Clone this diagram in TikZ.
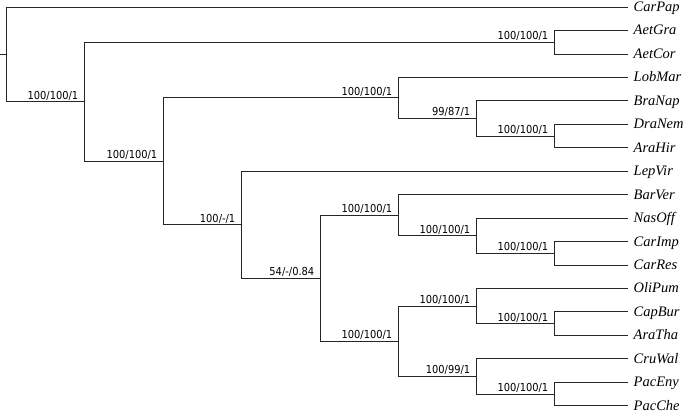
\documentclass[tikz,border=0pt]{standalone}
\usepackage{fontspec}
\setmainfont{Liberation Serif}
\newfontfamily\supfont{DejaVu Sans Condensed}
\begin{document}
\begin{tikzpicture}[x=1pt,y=-1pt,
  branch/.style={draw=black!85,line width=0.8pt},
  taxon/.style={anchor=base west,inner sep=0pt,xshift=5.5pt,yshift=-4.5pt,font=\fontsize{14.5}{16}\selectfont\itshape},
  supp/.style={anchor=base east,inner sep=0pt,xshift=-5.5pt,yshift=2.5pt,font=\supfont\fontsize{11}{12}\selectfont}]
\useasboundingbox (0,0) rectangle (685,413);
% leaf ends
\foreach \n [count=\i from 0] in {CarPap,AetGra,AetCor,LobMar,BraNap,DraNem,AraHir,LepVir,BarVer,NasOff,CarImp,CarRes,OliPum,CapBur,AraTha,CruWal,PacEny,PacChe}{
  \coordinate (t\n) at (628,{7+23.45*\i});
  \node[taxon] (\n) at (t\n) {\n};
}
% internal nodes
\coordinate (stub) at (0,54.36);
\coordinate (A) at (6,54.36);
\coordinate (B) at (84,101.72);
\coordinate (Aet) at (554,42.18);
\coordinate (C) at (163,161.26);
\coordinate (D) at (398,97.87);
\coordinate (E) at (476,118.39);
\coordinate (F) at (554,135.98);
\coordinate (G) at (241,224.65);
\coordinate (H) at (320,278.15);
\coordinate (I) at (398,215.12);
\coordinate (K) at (476,235.64);
\coordinate (L) at (554,253.23);
\coordinate (J) at (398,341.17);
\coordinate (M) at (476,305.99);
\coordinate (N) at (554,323.58);
\coordinate (O) at (476,376.34);
\coordinate (P) at (554,393.93);
% branches
\draw[branch] (stub) -- (A);
\draw[branch] (A) |- (tCarPap);
\draw[branch] (A) |- (B);
\draw[branch] (B) |- (Aet);
\draw[branch] (Aet) |- (tAetGra);
\draw[branch] (Aet) |- (tAetCor);
\draw[branch] (B) |- (C);
\draw[branch] (C) |- (D);
\draw[branch] (D) |- (tLobMar);
\draw[branch] (D) |- (E);
\draw[branch] (E) |- (tBraNap);
\draw[branch] (E) |- (F);
\draw[branch] (F) |- (tDraNem);
\draw[branch] (F) |- (tAraHir);
\draw[branch] (C) |- (G);
\draw[branch] (G) |- (tLepVir);
\draw[branch] (G) |- (H);
\draw[branch] (H) |- (I);
\draw[branch] (I) |- (tBarVer);
\draw[branch] (I) |- (K);
\draw[branch] (K) |- (tNasOff);
\draw[branch] (K) |- (L);
\draw[branch] (L) |- (tCarImp);
\draw[branch] (L) |- (tCarRes);
\draw[branch] (H) |- (J);
\draw[branch] (J) |- (M);
\draw[branch] (M) |- (tOliPum);
\draw[branch] (M) |- (N);
\draw[branch] (N) |- (tCapBur);
\draw[branch] (N) |- (tAraTha);
\draw[branch] (J) |- (O);
\draw[branch] (O) |- (tCruWal);
\draw[branch] (O) |- (P);
\draw[branch] (P) |- (tPacEny);
\draw[branch] (P) |- (tPacChe);
% support values
\node[supp] (sB) at (B) {100/100/1};
\node[supp] (sAet) at (Aet) {100/100/1};
\node[supp] (sC) at (C) {100/100/1};
\node[supp] (sD) at (D) {100/100/1};
\node[supp] (sE) at (E) {99/87/1};
\node[supp] (sF) at (F) {100/100/1};
\node[supp] (sG) at (G) {100/-/1};
\node[supp] (sH) at (H) {54/-/0.84};
\node[supp] (sI) at (I) {100/100/1};
\node[supp] (sK) at (K) {100/100/1};
\node[supp] (sL) at (L) {100/100/1};
\node[supp] (sJ) at (J) {100/100/1};
\node[supp] (sM) at (M) {100/100/1};
\node[supp] (sN) at (N) {100/100/1};
\node[supp] (sO) at (O) {100/99/1};
\node[supp] (sP) at (P) {100/100/1};
\end{tikzpicture}
\end{document}
